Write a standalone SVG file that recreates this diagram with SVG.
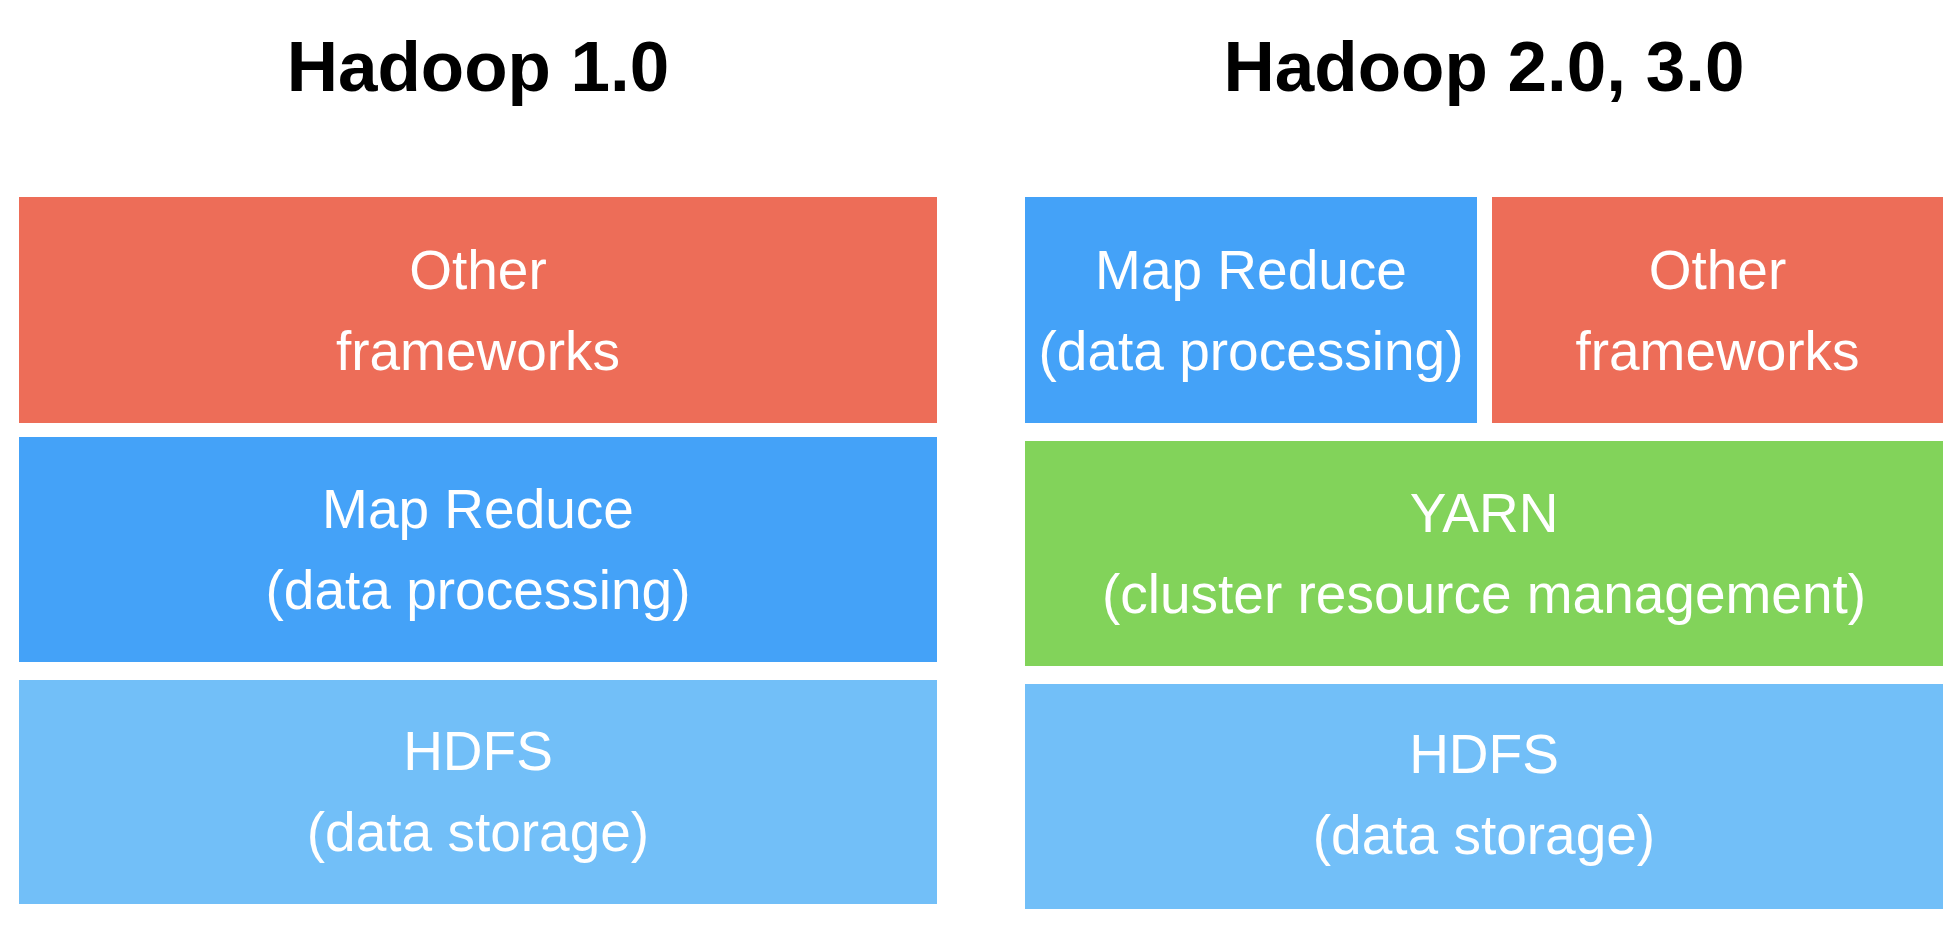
<svg xmlns="http://www.w3.org/2000/svg" width="1960" height="952" viewBox="0 0 1960 952">
<style>
.title{font-family:"Liberation Sans",Arial,sans-serif;font-weight:bold;font-size:71px;fill:#000;text-anchor:middle}
.lbl{font-family:"Liberation Sans",Arial,sans-serif;font-size:55px;fill:#fff;text-anchor:middle}
.red{fill:#ED6D58}
.blue{fill:#44A2F8}
.light{fill:#72BFF8}
.green{fill:#82D35A}
</style>
<rect width="1960" height="952" fill="#fff"/>
<text class="title" x="478" y="91">Hadoop 1.0</text>
<text class="title" x="1484" y="91">Hadoop 2.0, 3.0</text>
<g id="h1-other">
<rect class="red" x="19" y="197" width="918" height="226"/>
<text class="lbl" x="478" y="289">Other</text>
<text class="lbl" x="478" y="370">frameworks</text>
</g>
<g id="h1-mapreduce">
<rect class="blue" x="19" y="437" width="918" height="225"/>
<text class="lbl" x="478" y="528">Map Reduce</text>
<text class="lbl" x="478" y="609">(data processing)</text>
</g>
<g id="h1-hdfs">
<rect class="light" x="19" y="680" width="918" height="224"/>
<text class="lbl" x="478" y="770">HDFS</text>
<text class="lbl" x="478" y="851">(data storage)</text>
</g>
<g id="h2-mapreduce">
<rect class="blue" x="1025" y="197" width="452" height="226"/>
<text class="lbl" x="1251" y="289">Map Reduce</text>
<text class="lbl" x="1251" y="370">(data processing)</text>
</g>
<g id="h2-other">
<rect class="red" x="1492" y="197" width="451" height="226"/>
<text class="lbl" x="1717.5" y="289">Other</text>
<text class="lbl" x="1717.5" y="370">frameworks</text>
</g>
<g id="h2-yarn">
<rect class="green" x="1025" y="441" width="918" height="225"/>
<text class="lbl" x="1484" y="532">YARN</text>
<text class="lbl" x="1484" y="613">(cluster resource management)</text>
</g>
<g id="h2-hdfs">
<rect class="light" x="1025" y="684" width="918" height="225"/>
<text class="lbl" x="1484" y="773">HDFS</text>
<text class="lbl" x="1484" y="854">(data storage)</text>
</g>
<g id="connectors"></g>
</svg>
